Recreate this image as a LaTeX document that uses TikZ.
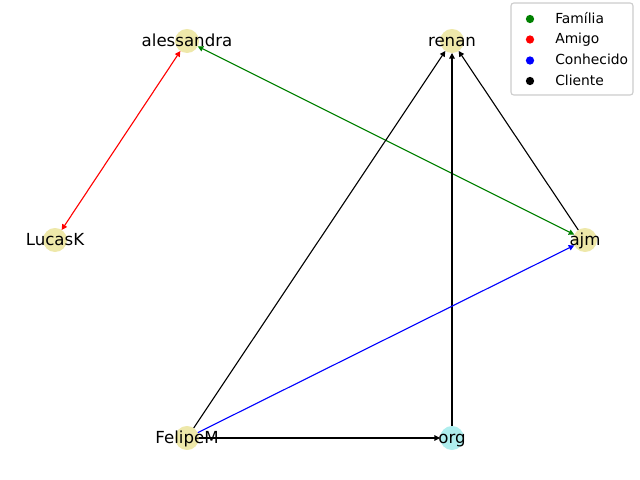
\documentclass[tikz,border=0pt]{standalone}
\usepackage{fontspec}
\setmainfont{DejaVu Sans}
\usetikzlibrary{arrows.meta}
\definecolor{nodeyel}{RGB}{238,232,170}
\definecolor{nodecyan}{RGB}{175,238,238}
\definecolor{famgreen}{RGB}{0,128,0}
\definecolor{legframe}{RGB}{204,204,204}
\begin{document}
\begin{tikzpicture}[x=0.01in,y=-0.01in,
  vtx/.style={circle,fill=nodeyel,minimum size=0.24in,inner sep=0pt,outer sep=0pt},
  lbl/.style={anchor=base,inner sep=0pt,font=\fontsize{12}{14}\selectfont},
  tipT/.tip={Triangle[length=4pt,width=4pt]},
  oneway/.style={line width=0.8pt,-tipT},
  twoway/.style={line width=0.8pt,tipT-tipT},
  legdot/.style={circle,minimum size=6pt,inner sep=0pt},
  legtxt/.style={anchor=base west,inner sep=0pt,font=\fontsize{10}{12}\selectfont}
]
\useasboundingbox (0,0) rectangle (640,480);
% vertices
\node[vtx] (A) at (187,41) {};
\node[vtx] (R) at (452,41) {};
\node[vtx] (L) at (55,240) {};
\node[vtx] (J) at (585,240) {};
\node[vtx] (F) at (187,438) {};
\node[vtx,fill=nodecyan] (O) at (452,438) {};
% edges
\draw[twoway,red] (A) -- (L);
\draw[twoway,famgreen] (A) -- (J);
\draw[oneway,black] (F) -- (R);
\draw[oneway,black] (O) -- (R);
\draw[oneway,black] (J) -- (R);
\draw[oneway,blue] (F) -- (J);
\draw[oneway,black] (F) -- (O);
% labels
\node[lbl] (lA) at (187,46.5) {alessandra};
\node[lbl] (lR) at (452,46.5) {renan};
\node[lbl] (lL) at (55,245.5) {LucasK};
\node[lbl] (lJ) at (585,245.5) {ajm};
\node[lbl] (lF) at (187,443.5) {FelipeM};
\node[lbl] (lO) at (452,443.5) {org};
% legend
\draw[rounded corners=2pt,draw=legframe,fill=white,line width=0.8pt] (511,3) rectangle (633,95);
\node[legdot,fill=famgreen] (mF) at (530,19) {};
\node[legdot,fill=red] (mA) at (530,39.5) {};
\node[legdot,fill=blue] (mC) at (530,60.5) {};
\node[legdot,fill=black] (mK) at (530,81) {};
\node[legtxt] (tF) at (555,23.5) {Família};
\node[legtxt] (tA) at (555,44) {Amigo};
\node[legtxt] (tC) at (555,65) {Conhecido};
\node[legtxt] (tK) at (555,85.5) {Cliente};
\end{tikzpicture}
\end{document}
